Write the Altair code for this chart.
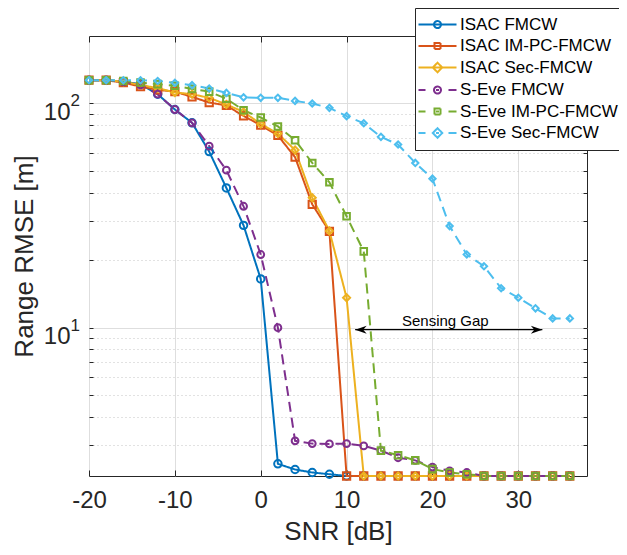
import altair as alt
import pandas as pd

FONT = "Liberation Sans"

SNR = [-20, -18, -16, -14, -12, -10, -8, -6, -4, -2, 0, 2, 4, 6, 8, 10, 12, 14,
       16, 18, 20, 22, 24, 26, 28, 30, 32, 34, 36]

SERIES = ["ISAC FMCW", "ISAC IM-PC-FMCW", "ISAC Sec-FMCW",
          "S-Eve FMCW", "S-Eve IM-PC-FMCW", "S-Eve Sec-FMCW"]
STYLE_KEYS = ["st1", "st2", "st3", "st4", "st5", "st6"]

isac_fmcw = [127, 127, 125, 122, 110, 94, 82, 61, 42, 28.6, 16.5, 2.47, 2.33, 2.26, 2.22,
             2.18, 2.18, 2.18, 2.18, 2.18, 2.18, 2.18, 2.18, 2.18, 2.18, 2.18, 2.18, 2.18, 2.18]
isac_impc = [127, 127, 124, 119, 115, 113, 107, 101, 98, 88, 80, 72, 57.6, 35.5, 26.9,
             2.18, 2.18, 2.18, 2.18, 2.18, 2.18, 2.18, 2.18, 2.18, 2.18, 2.18, 2.18, 2.18, 2.18]
isac_sec = [127, 127, 125, 121, 117, 112, 110, 106, 99, 91.7, 81, 73.4, 62, 38, 27, 13.6,
            2.18, 2.18, 2.18, 2.18, 2.18, 2.18, 2.18, 2.18, 2.18, 2.18, 2.18, 2.18, 2.18]
seve_fmcw = [127, 127, 125, 121, 110, 94, 82, 64.5, 50.4, 34.8, 21.2, 10.0, 3.13, 3.04, 3.03,
             3.04, 2.97, 2.83, 2.63, 2.56, 2.39, 2.30, 2.26, 2.18, 2.18, 2.18, 2.18, 2.18, 2.18]
seve_impc = [127, 127, 126, 124, 122, 120, 116, 113, 105, 93.3, 86.6, 79, 68.6, 54.3, 44.5,
             31.4, 21.9, 2.83, 2.70, 2.56, 2.34, 2.26, 2.22, 2.18, 2.18, 2.18, 2.18, 2.18, 2.18]
seve_sec = [127, 127, 127, 127, 126, 123.6, 120.7, 116.7, 111.5, 106.5, 106, 106, 102.7, 100,
            95.6, 87.8, 81.6, 71, 65.6, 54.3, 46.2, 28.4, 21.2, 18.8, 15.0, 13.6, 12.2, 11.0, 11.0]

VALUES = [isac_fmcw, isac_impc, isac_sec, seve_fmcw, seve_impc, seve_sec]

COLORS = ["#0072BD", "#D95319", "#EDB120", "#7E2F8E", "#77AC30", "#4DBEEE"]
DASHES = [[1, 0], [1, 0], [1, 0], [10, 6], [10, 6], [10, 6]]
SHAPES = ["circle", "square", "diamond", "circle", "square", "diamond"]
SIZES = [56, 40, 90, 56, 40, 90]

X_TICKS = [-20, -10, 0, 10, 20, 30]
Y_MAJOR = [10, 100]
Y_MINOR = [3, 4, 5, 6, 7, 8, 9, 20, 30, 40, 50, 60, 70, 80, 90]
Y_ALL = [3, 4, 5, 6, 7, 8, 9, 10, 20, 30, 40, 50, 60, 70, 80, 90, 100]

GAP_X = [11.0, 32.8]
GAP_Y = 9.8
GAP_LABEL_X = 21.5
GAP_LABEL = "Sensing Gap"

W, H = 498, 440

rows = []
for name, key, vals in zip(SERIES, STYLE_KEYS, VALUES):
    for s, v in zip(SNR, vals):
        rows.append({"snr": s, "value": v, "series": name, "style": key})
df = pd.DataFrame(rows)

xs = alt.Scale(domain=[-20, 38], nice=False, zero=False)
ys = alt.Scale(type="log", domain=[2.18, 200], nice=False)

# legend symbol paths (unit = 5 px)
CIRC = "M0.7,0A0.7,0.7,0,1,1,-0.7,0A0.7,0.7,0,1,1,0.7,0"
SQR = "M-0.6,-0.6L0.6,-0.6L0.6,0.6L-0.6,0.6Z"
DIA = "M0,-0.95L0.95,0L0,0.95L-0.95,0Z"
SOLID = "M-3.8,0L3.8,0"
DASHED = "M-3.8,0L-2.4,0M2.2,0L3.8,0M-0.3,0L0.3,0"
PATHS = [SOLID + CIRC, SOLID + SQR, SOLID + DIA, DASHED + CIRC, DASHED + SQR, DASHED + DIA]
expr = "'circle'"
for name, p in reversed(list(zip(SERIES, PATHS))):
    expr = f"datum.value == '{name}' ? '{p}' : {expr}"

LEGEND = alt.Legend(
    title=None, orient="none", legendX=326, legendY=-28,
    fillColor="white", strokeColor="#262626", padding=8,
    labelFont=FONT, labelFontSize=17, labelColor="black", labelLimit=400,
    symbolSize=100, symbolStrokeWidth=2, symbolOffset=6, labelOffset=14,
    symbolFillColor="transparent", symbolType=alt.ExprRef(expr=expr),
    symbolDash=[1, 0],
    rowPadding=3.5,
)

color = alt.Color("series:N", scale=alt.Scale(domain=SERIES, range=COLORS), legend=LEGEND)

def tick_axis(orient, offset, values, size):
    return alt.Axis(orient=orient, offset=offset, values=values, labels=False, grid=False,
                    domain=False, ticks=True, tickSize=size, tickColor="#262626",
                    tickWidth=1, title=None)

base = alt.Chart(df)

lines = base.mark_line(strokeWidth=2).encode(
    x=alt.X("snr:Q", scale=xs, axis=alt.Axis(
        orient="bottom", values=X_TICKS, labelExpr="'' + datum.value", labelFlush=False,
        grid=True, gridColor="#DEDEDE", gridWidth=1, ticks=False, tickSize=0, domain=False,
        labelFont=FONT, labelFontSize=24, labelColor="#262626", labelPadding=31,
        labelBaseline="alphabetic",
        title="SNR [dB]", titleFont=FONT, titleFontSize=26, titleFontWeight="normal",
        titleColor="#262626", titleY=63, titleBaseline="alphabetic")),
    y=alt.Y("value:Q", scale=ys, axis=alt.Axis(
        orient="left", values=Y_MAJOR, labelExpr="'10'",
        grid=True, gridColor="#DEDEDE", gridWidth=1, ticks=False, tickSize=0, domain=False,
        labelFont=FONT, labelFontSize=24, labelColor="#262626", labelPadding=19,
        labelBaseline="alphabetic", labelOffset=15.7,
        title="Range RMSE [m]", titleFont=FONT, titleFontSize=26, titleFontWeight="normal",
        titleColor="#262626", titleAngle=270, titleX=-57, titleY=H / 2,
        titleAlign="center", titleBaseline="alphabetic")),
    color=color,
    strokeDash=alt.StrokeDash("style:N", scale=alt.Scale(domain=STYLE_KEYS, range=DASHES), legend=None),
)

points = base.mark_point(filled=False, strokeWidth=2, opacity=1).encode(
    x=alt.X("snr:Q", scale=xs, axis=tick_axis("top", -H, X_TICKS, 6)),
    y=alt.Y("value:Q", scale=ys, axis=tick_axis("right", -W, Y_ALL, 4)),
    color=color,
    shape=alt.Shape("style:N", scale=alt.Scale(domain=STYLE_KEYS, range=SHAPES), legend=None),
    size=alt.Size("style:N", scale=alt.Scale(domain=STYLE_KEYS, range=SIZES), legend=None),
)

gap_df = pd.DataFrame({"x": [GAP_X[0]], "x2": [GAP_X[1]], "y": [GAP_Y]})
rule = alt.Chart(gap_df).mark_rule(color="black", strokeWidth=1.2).encode(
    x=alt.X("x:Q", scale=xs, axis=tick_axis("bottom", -H, X_TICKS, 6)),
    x2="x2:Q",
    y=alt.Y("y:Q", scale=ys, axis=tick_axis("left", -W, Y_ALL, 4)),
)

head_l_df = pd.DataFrame({"x": [GAP_X[0]], "y": [GAP_Y]})
head_r_df = pd.DataFrame({"x": [GAP_X[1]], "y": [GAP_Y]})
head_l = alt.Chart(head_l_df).mark_point(
    shape="M0,0L1,-0.35L0.7,0L1,0.35Z", size=529, filled=True, color="black", opacity=1
).encode(
    x=alt.X("x:Q", scale=xs, axis=None),
    y=alt.Y("y:Q", scale=ys, axis=alt.Axis(
        orient="left", values=Y_MINOR, labels=False, ticks=False, domain=False,
        grid=True, gridColor="#C4C4C4", gridDash=[1, 3], gridWidth=1, title=None)),
)
head_r = alt.Chart(head_r_df).mark_point(
    shape="M0,0L-1,-0.35L-0.7,0L-1,0.35Z", size=529, filled=True, color="black", opacity=1
).encode(
    x=alt.X("x:Q", scale=xs, axis=None),
    y=alt.Y("y:Q", scale=ys, axis=alt.Axis(
        orient="left", values=Y_MAJOR,
        labelExpr="datum.value == 100 ? '2' : '1'",
        labelFont=FONT, labelFontSize=17, labelColor="#262626", labelAlign="left",
        labelPadding=19, labelBaseline="alphabetic", labelOffset=2.4,
        ticks=False, tickSize=0, domain=False, grid=False, title=None)),
)

txt_df = pd.DataFrame({"x": [GAP_LABEL_X], "y": [GAP_Y], "t": [GAP_LABEL]})
txt = alt.Chart(txt_df).mark_text(
    font=FONT, fontSize=15, color="black", baseline="alphabetic", dy=-4
).encode(
    x=alt.X("x:Q", scale=xs, axis=None),
    y=alt.Y("y:Q", scale=ys, axis=None),
    text="t:N",
)

chart = alt.layer(lines, points, rule, head_l, head_r, txt).resolve_axis(
    x="independent", y="independent"
).properties(
    width=W, height=H,
    autosize=alt.AutoSizeParams(type="none"),
    padding={"left": 81, "top": 28, "right": 32, "bottom": 70},
    background="white",
).configure_view(stroke="#262626", strokeWidth=1)

chart.save("out.html", embed_options={"renderer": "svg", "actions": False})
